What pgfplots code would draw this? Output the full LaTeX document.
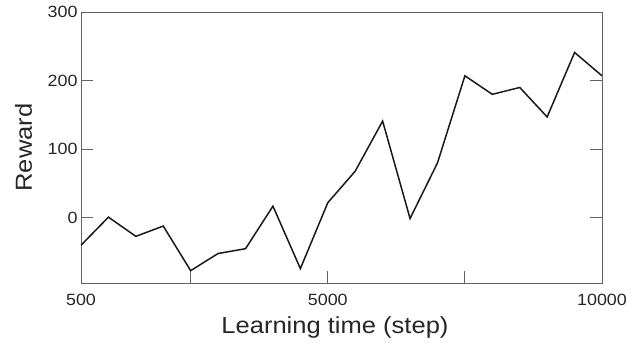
\documentclass[border=0pt]{standalone}
\usepackage{fontspec}
\setmainfont{Liberation Sans}[FakeStretch=1.1]
\usepackage{pgfplots}
\pgfplotsset{compat=1.18}
\begin{document}
\begin{tikzpicture}
\begin{axis}[
 scale only axis, width=521bp, height=271bp,
 xmin=500, xmax=10000, ymin=-95, ymax=300,
 xtick={500,2500,5000,7500,10000}, xticklabels={500,,5000,,10000},
 ytick={0,100,200,300},
 scaled x ticks=false, scaled y ticks=false,
 tick align=inside, xtick pos=bottom, ytick pos=both,
 major tick length=12bp,
 axis line style={color=black!62, line width=0.9bp},
 tick style={color=black!62, line width=0.9bp},
 tick label style={font=\fontsize{16.3}{16.3}\selectfont, text=black!85},
 xticklabel style={yshift=-8bp},
 /pgf/number format/assume math mode=true,
 xlabel={Learning time (step)}, ylabel={Reward},
 label style={font=\fontsize{23.3}{23.3}\selectfont, text=black!85},
 xlabel style={at={(axis description cs:0.4875,-0.166)}, anchor=center},
 ylabel style={at={(axis description cs:-0.11,0.5)}, anchor=center},
]
\addplot[black!90, line width=1.5bp] table {
x y
500 -40
1000 1
1500 -27
2000 -12
2500 -77
3000 -52
3500 -45
4000 17
4500 -74
5000 22
5500 68
6000 141
6500 -1
7000 80
7500 207
8000 180
8500 190
9000 147
9500 241
10000 207
};
\end{axis}
\pgfresetboundingbox
\path (-81bp,-66bp) rectangle (561bp,283bp);
\end{tikzpicture}
\end{document}
